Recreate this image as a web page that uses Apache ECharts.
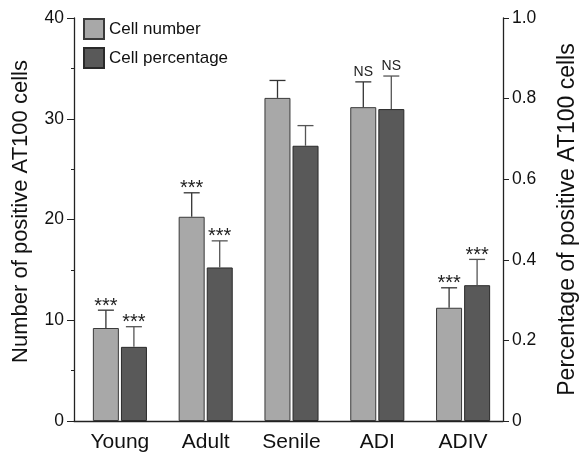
<!DOCTYPE html>
<html>
<head>
<meta charset="utf-8">
<script src="https://cdn.jsdelivr.net/npm/echarts@6/dist/echarts.min.js"></script>
<style>html,body{margin:0;padding:0;background:#fff}#c{width:587px;height:453px}</style>
</head>
<body>
<div id="c"></div>
<script>
var categories = ['Young', 'Adult', 'Senile', 'ADI', 'ADIV'];
var cellNumber = [9.23, 20.27, 32.07, 31.15, 11.24];
var cellNumberErr = [1.77, 2.38, 1.73, 2.51, 1.98];
var cellPercentage = [0.184, 0.381, 0.683, 0.774, 0.337];
var cellPercentageErr = [0.050, 0.066, 0.050, 0.082, 0.064];
var cellNumberSig = ['***', '***', '', 'NS', '***'];
var cellPercentageSig = ['***', '***', '', 'NS', '***'];
var leftTicks = [0, 10, 20, 30, 40];
var rightTicks = [0, 0.2, 0.4, 0.6, 0.8, 1.0];

var FONT = 'Liberation Sans, Arial, sans-serif';
var BAR_W = 26;
var HALF_OFF = 14;

function errData(vals, errs, sig) {
  return vals.map(function (v, i) { return [i, v, v + errs[i], sig[i]]; });
}
function makeErr(offset, color) {
  return function (params, api) {
    var i = api.value(0);
    var base = api.coord([i, api.value(1)]);
    var top = api.coord([i, api.value(2)]);
    var x = base[0] + offset;
    var cap = 8;
    var children = [
      { type: 'line', shape: { x1: x, y1: base[1], x2: x, y2: top[1] }, style: { stroke: color, lineWidth: 1.3 } },
      { type: 'line', shape: { x1: x - cap, y1: top[1], x2: x + cap, y2: top[1] }, style: { stroke: color, lineWidth: 1.3 } }
    ];
    var t = api.value(3);
    if (t) {
      var isNS = t === 'NS';
      children.push({ type: 'text', x: x, y: top[1] + (isNS ? -3 : 6),
        style: { text: t, fill: '#222', font: (isNS ? '14px ' : '20px ') + FONT, textAlign: 'center', textVerticalAlign: 'bottom' } });
    }
    return { type: 'group', children: children };
  };
}

var chart = echarts.init(document.getElementById('c'), null, { renderer: 'canvas' });
chart.setOption({
  animation: false,
  backgroundColor: '#fff',
  textStyle: { fontFamily: FONT },
  legend: {
    orient: 'vertical', left: 78, top: 13, itemWidth: 20, itemHeight: 20, itemGap: 7,
    icon: 'rect',
    data: ['Cell number', 'Cell percentage'],
    textStyle: { fontSize: 17, color: '#111', fontFamily: FONT }
  },
  grid: [
    { left: 74, right: 75, top: 18, bottom: 32 },
    { left: 77, right: 81, top: 18, bottom: 32 }
  ],
  xAxis: [
    { type: 'category', gridIndex: 0, data: categories,
      axisLine: { lineStyle: { color: '#222', width: 1.3 } }, axisTick: { show: false }, axisLabel: { show: false } },
    { type: 'category', gridIndex: 1, data: categories,
      axisLine: { show: false }, axisTick: { show: false },
      axisLabel: { fontSize: 21, color: '#111', margin: 11, fontFamily: FONT } }
  ],
  yAxis: [
    { type: 'value', gridIndex: 0, min: 0, max: 40, interval: 10, position: 'left',
      name: 'Number of positive AT100 cells', nameLocation: 'middle', nameGap: 42,
      nameTextStyle: { fontSize: 22, color: '#111', fontFamily: FONT, padding: [0, 0, 0, 16] },
      axisLine: { show: true, lineStyle: { color: '#222', width: 1.3 } },
      axisTick: { show: true, length: 7, lineStyle: { color: '#222' } },
      minorTick: { show: true, splitNumber: 2, length: 3, lineStyle: { color: '#222' } },
      splitLine: { show: false },
      axisLabel: { fontSize: 17.5, color: '#111', margin: 10, fontFamily: FONT } },
    { type: 'value', gridIndex: 0, min: 0, max: 1, interval: 0.2, position: 'right',
      name: 'Percentage of positive AT100 cells', nameLocation: 'middle', nameGap: 53, nameRotate: 90,
      nameTextStyle: { fontSize: 23, color: '#111', fontFamily: FONT },
      axisLine: { show: true, lineStyle: { color: '#222', width: 1.3 } },
      axisTick: { show: true, length: 6, lineStyle: { color: '#222' } },
      splitLine: { show: false },
      axisLabel: { fontSize: 17.5, color: '#111', margin: 9, fontFamily: FONT,
        formatter: function (v) { return v === 0 ? '0' : v.toFixed(1); } } },
    { type: 'value', gridIndex: 1, min: 0, max: 40, show: false },
    { type: 'value', gridIndex: 1, min: 0, max: 1, show: false }
  ],
  series: [
    { name: 'Cell number', type: 'bar', xAxisIndex: 1, yAxisIndex: 2, data: cellNumber,
      barWidth: BAR_W, barGap: '8%',
      itemStyle: { color: '#a8a8a8', borderColor: '#3a3a3a', borderWidth: 1 } },
    { name: 'Cell percentage', type: 'bar', xAxisIndex: 1, yAxisIndex: 3, data: cellPercentage,
      barWidth: BAR_W, barGap: '8%',
      itemStyle: { color: '#595959', borderColor: '#2a2a2a', borderWidth: 1 } },
    { type: 'custom', xAxisIndex: 1, yAxisIndex: 2, data: errData(cellNumber, cellNumberErr, cellNumberSig),
      renderItem: makeErr(-HALF_OFF, '#333'), z: 5, silent: true },
    { type: 'custom', xAxisIndex: 1, yAxisIndex: 3, data: errData(cellPercentage, cellPercentageErr, cellPercentageSig),
      renderItem: makeErr(HALF_OFF, '#555'), z: 5, silent: true }
  ]
});
</script>
</body>
</html>
